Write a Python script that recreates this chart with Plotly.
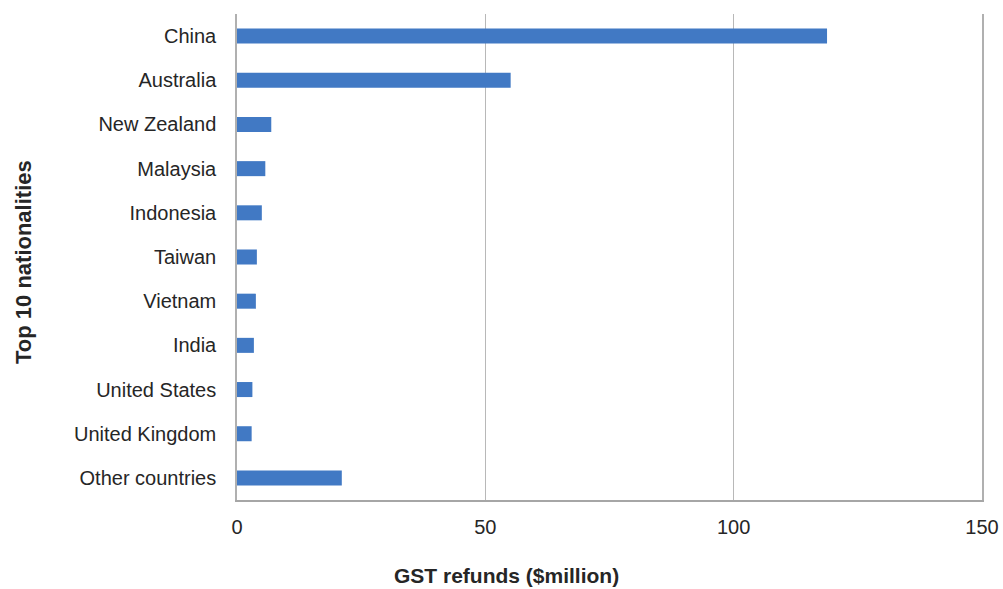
import plotly.graph_objects as go

countries = ["China", "Australia", "New Zealand", "Malaysia", "Indonesia", "Taiwan",
             "Vietnam", "India", "United States", "United Kingdom", "Other countries"]
refunds = [118.8, 55.1, 6.9, 5.7, 5.0, 4.0, 3.8, 3.4, 3.1, 2.95, 21.1]
x_ticks = [0, 50, 100, 150]

fig = go.Figure(go.Bar(
    x=refunds, y=countries, orientation="h",
    marker=dict(color="#4179C4", line=dict(width=0)),
    width=0.34,
))

fig.update_layout(
    width=1003, height=589,
    margin=dict(l=237, r=21, t=14, b=89),
    paper_bgcolor="white", plot_bgcolor="white",
    font=dict(family="Arial, Liberation Sans", color="#262626"),
    showlegend=False,
    annotations=[
        dict(text="<b>GST refunds ($million)</b>", xref="paper", yref="paper",
             x=(506 - 237) / 745, y=(500 - 575) / 486, xanchor="center", yanchor="middle",
             showarrow=False, font=dict(size=21, color="#262626")),
        dict(text="<b>Top 10 nationalities</b>", xref="paper", yref="paper",
             x=(23 - 237) / 745, y=(500 - 262) / 486, xanchor="center", yanchor="middle", textangle=-90,
             showarrow=False, font=dict(size=22, color="#262626")),
    ],
)
fig.update_xaxes(
    range=[0, 150], tickvals=x_ticks, ticktext=[str(v) for v in x_ticks],
    showgrid=True, gridcolor="#b8b8b8", gridwidth=1,
    showline=True, linecolor="#a6a6a6", linewidth=1.5,
    zeroline=False, ticks="", ticklabelstandoff=8, automargin=False,
    tickfont=dict(size=20, color="#262626"),
)
fig.update_yaxes(
    categoryorder="array", categoryarray=countries, autorange="reversed",
    range=[10.5, -0.5],
    showgrid=False, showline=True, linecolor="#b0b0b0", linewidth=1.5, mirror=True,
    zeroline=False, ticks="", ticklabelstandoff=15, automargin=False,
    tickfont=dict(size=20, color="#262626"),
)

fig.write_html("out.html")
